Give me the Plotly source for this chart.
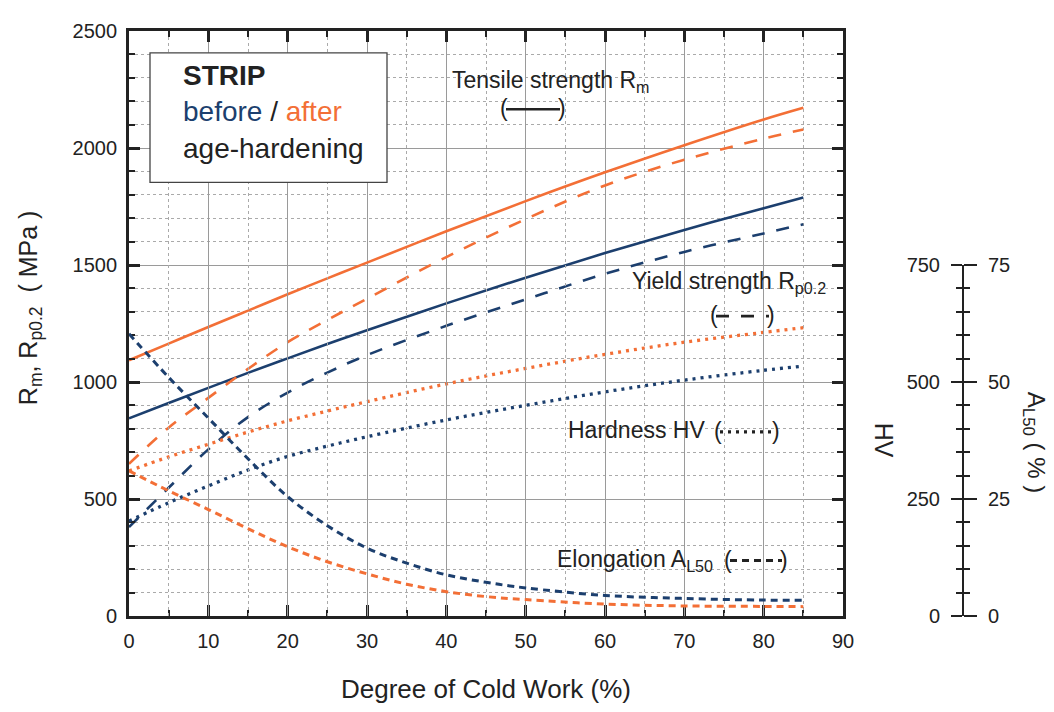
import plotly.graph_objects as go

# ---------------- data ----------------
cold_work = [0, 5, 10, 15, 20, 25, 30, 40, 50, 60, 70, 80, 85]
rm_before = [845, 910, 975, 1039, 1101, 1162, 1221, 1336, 1446, 1551, 1650, 1743, 1788]
rm_after = [1093, 1164, 1235, 1305, 1375, 1443, 1510, 1644, 1773, 1896, 2012, 2122, 2172]
rp_before = [380, 548, 712, 850, 955, 1040, 1115, 1240, 1353, 1462, 1556, 1635, 1674]
rp_after = [650, 805, 932, 1056, 1170, 1265, 1356, 1534, 1696, 1840, 1950, 2040, 2079]
hv_before = [203, 242, 278, 312, 341, 363, 383, 419, 450, 479, 504, 525, 534]
hv_after = [310, 340, 367, 393, 417, 438, 458, 496, 529, 559, 585, 606, 616]

cold_work_el = [0, 5, 10, 15, 20, 25, 30, 35, 40, 45, 50, 60, 70, 80, 85]
a_before = [60.3, 51.0, 42.3, 33.6, 25.5, 19.3, 14.5, 11.3, 8.8, 7.2, 6.0, 4.4, 3.75, 3.4, 3.35]
a_after = [31.0, 26.75, 22.75, 18.65, 14.8, 11.6, 9.0, 6.8, 5.2, 4.15, 3.5, 2.55, 2.15, 2.05, 2.0]

x_ticks = [0, 10, 20, 30, 40, 50, 60, 70, 80, 90]
y_ticks = [0, 500, 1000, 1500, 2000, 2500]
hv_ticks = [0, 250, 500, 750]
a_ticks = [0, 25, 50, 75]

# ---------------- styles ----------------
BLUE = "#1c3f6e"
ORANGE = "#f36f36"
INK = "#222222"
FONT = "Liberation Sans, Arial, sans-serif"

OFF = 8  # page body margin
W, H = 1046, 704
L, R, T, B = 121, 40, 17, 96
PW = W - L - R
PH = H - T - B
XD = (843 - OFF - L) / PW
XP = (963 - OFF - L) / PW


def px(xs):
    return (xs - OFF - L) / PW


def py(ys):
    return (H - B - (ys - OFF)) / PH


SOLID = "solid"
LONGDASH = "13px,12px"
DOT = "3px,5px"
SHORTDASH = "7px,5px"

fig = go.Figure()


def add(x, y, color, dash, yaxis, width=2.6):
    fig.add_trace(go.Scatter(
        x=x, y=y, mode="lines", yaxis=yaxis, xaxis="x",
        line=dict(color=color, width=width, dash=dash, shape="spline", smoothing=1.0),
        showlegend=False, hoverinfo="skip"))


add(cold_work, rm_after, ORANGE, SOLID, "y")
add(cold_work, rm_before, BLUE, SOLID, "y")
add(cold_work, rp_after, ORANGE, LONGDASH, "y")
add(cold_work, rp_before, BLUE, LONGDASH, "y")
add(cold_work, hv_after, ORANGE, DOT, "y2", 3.3)
add(cold_work, hv_before, BLUE, DOT, "y2", 3.3)
add(cold_work_el, a_before, BLUE, SHORTDASH, "y3", 3)
add(cold_work_el, a_after, ORANGE, SHORTDASH, "y3", 3)

tickfont = dict(family=FONT, size=20, color=INK)

common = dict(showline=True, linecolor=INK, linewidth=2.8, mirror="ticks",
              ticks="inside", ticklen=11, tickwidth=2.5, tickcolor=INK,
              showgrid=True, gridcolor="#9a9a9a", gridwidth=1, zeroline=False,
              tickfont=tickfont)

fig.update_layout(
    width=W, height=H,
    margin=dict(l=L, r=R, t=T, b=B),
    paper_bgcolor="white", plot_bgcolor="rgba(0,0,0,0)",
    xaxis=dict(domain=[0, XD], range=[0, 90], tickmode="array", tickvals=x_ticks,
               ticklabelstandoff=5, anchor="y",
               minor=dict(dtick=5, tick0=0, ticks="inside", ticklen=6, tickwidth=2, tickcolor=INK,
                          showgrid=True, gridcolor="#aaaaaa", griddash="dot", gridwidth=1),
               **common),
    yaxis=dict(domain=[0, 1], range=[0, 2500], tickmode="array", tickvals=y_ticks,
               ticklabelstandoff=5, anchor="x",
               minor=dict(dtick=100, tick0=0, ticks="inside", ticklen=6, tickwidth=2, tickcolor=INK,
                          showgrid=True, gridcolor="#aaaaaa", griddash="dot", gridwidth=1),
               **common),
    yaxis2=dict(domain=[0, 0.6], range=[0, 750], anchor="free", position=XP, side="left",
                showline=True, linecolor=INK, linewidth=2, showgrid=False, zeroline=False,
                tickmode="array", tickvals=hv_ticks, ticks="outside", ticklen=11, tickwidth=2,
                tickcolor=INK, tickfont=tickfont, ticklabelstandoff=7,
                minor=dict(dtick=50, tick0=0, ticks="outside", ticklen=6, tickwidth=2, tickcolor=INK)),
    yaxis3=dict(domain=[0, 0.6], range=[0, 75], anchor="free", position=XP, side="right",
                showline=True, linecolor=INK, linewidth=2, showgrid=False, zeroline=False,
                tickmode="array", tickvals=a_ticks, ticks="outside", ticklen=13, tickwidth=2,
                tickcolor=INK, tickfont=tickfont, ticklabelstandoff=7,
                minor=dict(dtick=5, tick0=0, ticks="outside", ticklen=6, tickwidth=2, tickcolor=INK)),
)

ann = []


def text(xs, ys, s, size=23, xanchor="left", angle=0, color=INK):
    ann.append(dict(x=px(xs), y=py(ys), xref="paper", yref="paper", text=s, showarrow=False,
                    xanchor=xanchor, yanchor="middle", textangle=angle,
                    font=dict(family=FONT, size=size, color=color)))


# axis titles
text(486, 690, "Degree of Cold Work (%)", size=26, xanchor="center")
text(30, 305, "R<sub>m</sub>, R<sub>p0.2</sub>  ( MPa )", size=25, xanchor="center", angle=-90)
text(884, 438, "HV", size=25, xanchor="center", angle=90)
text(1034, 440, "A<sub>L50</sub> ( % )", size=24, xanchor="center", angle=90)

# legend box
shapes = [dict(type="rect", xref="paper", yref="paper", x0=px(150), x1=px(387), y0=py(178), y1=py(47),
               line=dict(color="#444444", width=1.3), fillcolor="white", layer="above")]
ann.append(dict(x=px(181), y=py(107), xref="paper", yref="paper", showarrow=False,
                xanchor="left", yanchor="middle", align="left",
                text=("<b>STRIP</b><br><span style='color:%s'>before</span> / "
                      "<span style='color:%s'>after</span><br>age-hardening") % (BLUE, ORANGE),
                font=dict(family=FONT, size=28, color=INK)))

# curve labels
text(450, 76, "Tensile strength R<sub>m</sub>")
text(630, 279, "Yield strength R<sub>p0.2</sub>")
text(566, 428, "Hardness HV")
text(555, 560, "Elongation A<sub>L50</sub>")

samples = [
    (498, 568, 103, SOLID, 2.6),
    (708, 777, 312, LONGDASH, 2.6),
    (712, 782, 429, DOT, 3.3),
    (722, 790, 559, SHORTDASH, 3),
]
for x0, x1, yy, dash, wd in samples:
    text(x0, yy, "(", xanchor="left")
    text(x1, yy, ")", xanchor="right")
    shapes.append(dict(type="line", xref="paper", yref="paper", x0=px(x0 + 8), x1=px(x1 - 8),
                       y0=py(yy + 1), y1=py(yy + 1), line=dict(color=INK, width=wd, dash=dash)))

fig.update_layout(annotations=ann, shapes=shapes)
fig.write_html("out.html")
